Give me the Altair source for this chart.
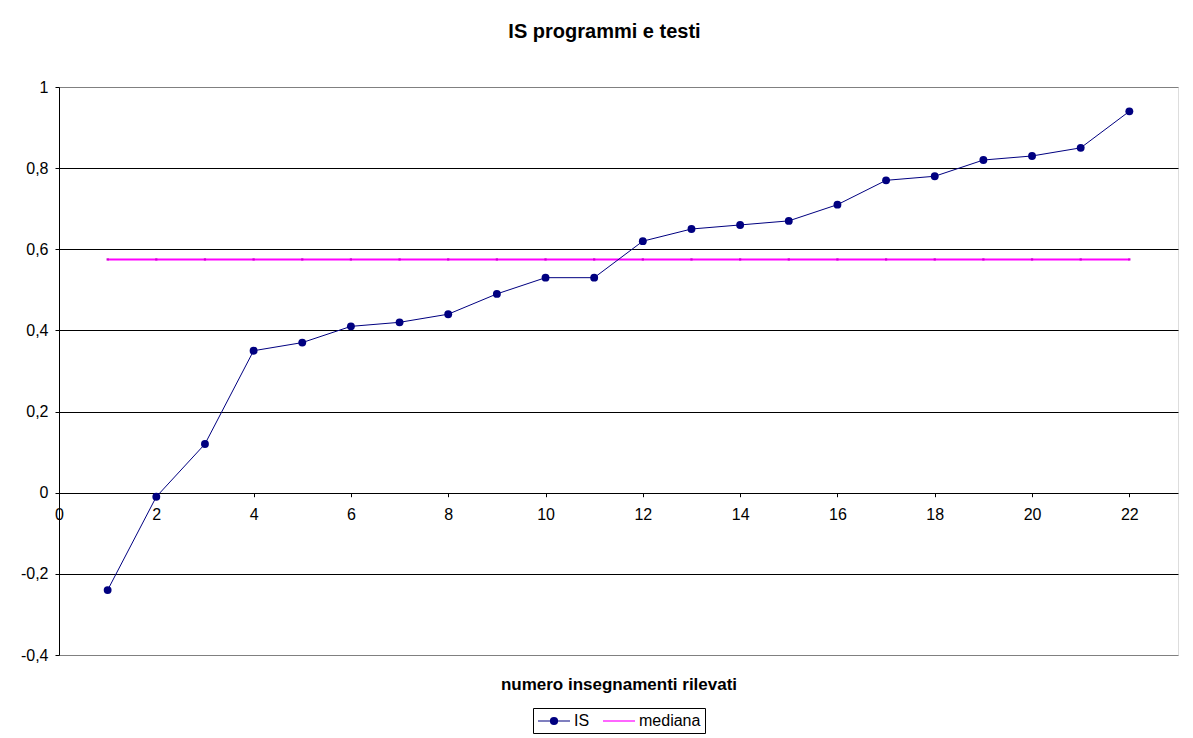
import altair as alt
import pandas as pd

# ---- data ----
x_vals = list(range(1, 23))
is_vals = [-0.24, -0.01, 0.12, 0.35, 0.37, 0.41, 0.42, 0.44, 0.49, 0.53, 0.53,
           0.62, 0.65, 0.66, 0.67, 0.71, 0.77, 0.78, 0.82, 0.83, 0.85, 0.94]
median_val = 0.575
series_names = ["IS", "mediana"]
series_colors = ["#000080", "#FF00FF"]
x_ticks = list(range(0, 23, 2))
y_ticks = [-0.4, -0.2, 0, 0.2, 0.4, 0.6, 0.8, 1]
x_domain = [0, 23]
y_domain = [-0.4, 1]

df_is = pd.DataFrame({"x": x_vals, "v": is_vals})
df_med = pd.DataFrame({"x": x_vals, "v": [median_val] * len(x_vals)})
df_leg = pd.DataFrame({"s": series_names})

FONT = "Liberation Sans"
W, H = 1119, 568
zero_offset = -H * (0 - y_domain[0]) / (y_domain[1] - y_domain[0])

xs = alt.Scale(domain=x_domain, nice=False, zero=False)
ys = alt.Scale(domain=y_domain, nice=False, zero=False)

x_axis = alt.Axis(
    values=x_ticks, offset=zero_offset, domain=False, grid=False,
    ticks=True, tickSize=4, tickColor="black", tickWidth=1,
    labelFontSize=16, labelFont=FONT, labelColor="black", labelPadding=10,
    labelOverlap=False, labelFlush=False,
    title="numero insegnamenti rilevati", titleFont=FONT, titleFontSize=17,
    titleFontWeight="bold", titleColor="black", titleY=192, titleBaseline="middle",
)
y_axis = alt.Axis(
    values=y_ticks, domain=True, domainColor="black", domainWidth=1,
    grid=True, gridWidth=1,
    gridColor={"condition": {"test": "datum.value > 0.99 || datum.value < -0.39",
                             "value": "#808080"}, "value": "black"},
    ticks=True, tickSize=4, tickColor="black", tickWidth=1,
    labelFontSize=16, labelFont=FONT, labelColor="black", labelPadding=7,
    labelExpr="replace(toString(round(datum.value*10)/10), '.', ',')",
    title=None,
)

X = alt.X("x:Q", scale=xs, axis=x_axis)
Y = alt.Y("v:Q", scale=ys, axis=y_axis)

med_line = alt.Chart(df_med).mark_line(color=series_colors[1], strokeWidth=2).encode(x=X, y=Y)
med_pts = alt.Chart(df_med).mark_point(shape="square", filled=True, size=5,
                                       color="#D000D0", opacity=1).encode(x=X, y=Y)
is_line = alt.Chart(df_is).mark_line(color=series_colors[0], strokeWidth=1).encode(x=X, y=Y)
is_pts = alt.Chart(df_is).mark_circle(color=series_colors[0], size=62, opacity=1).encode(x=X, y=Y)

# legend symbols: a line with a dot, and a plain line
is_path = ("M-1,0H3 "
           "M0.56,0A0.44,0.44 0 1,0 1.44,0A0.44,0.44 0 1,0 0.56,0 "
           "M0.7,0A0.3,0.3 0 1,0 1.3,0A0.3,0.3 0 1,0 0.7,0 "
           "M0.84,0A0.16,0.16 0 1,0 1.16,0A0.16,0.16 0 1,0 0.84,0 "
           "M0.95,0A0.05,0.05 0 1,0 1.05,0A0.05,0.05 0 1,0 0.95,0")
med_path = "M-1,0H3"

leg = alt.Legend(
    title=None, orient="none", legendX=474, legendY=621, direction="horizontal",
    strokeColor="black", fillColor="white", padding=4,
    labelFont=FONT, labelFontSize=16, labelColor="black", labelOffset=19,
    symbolSize=256, symbolStrokeWidth=1.2, columnPadding=10,
)
legend_layer = alt.Chart(df_leg).mark_point(filled=False, opacity=1, strokeWidth=1.2).encode(
    color=alt.Color("s:N", scale=alt.Scale(domain=series_names, range=series_colors), legend=leg),
    shape=alt.Shape("s:N", scale=alt.Scale(domain=series_names, range=[is_path, med_path]), legend=leg),
).transform_filter("false")

chart = alt.layer(med_line, med_pts, is_line, is_pts, legend_layer).properties(
    width=W, height=H,
    title=alt.Title("IS programmi e testi", fontSize=20, font=FONT, fontWeight="bold",
                    anchor="middle", frame="group", offset=37, dx=-14, color="black"),
    autosize=alt.AutoSizeParams(type="none"),
    padding={"left": 51, "top": 79, "right": 7, "bottom": 80},
).configure_view(stroke="#808080", strokeWidth=2).configure(background="white")

chart.save("out.html", embed_options={"renderer": "svg", "actions": False})
